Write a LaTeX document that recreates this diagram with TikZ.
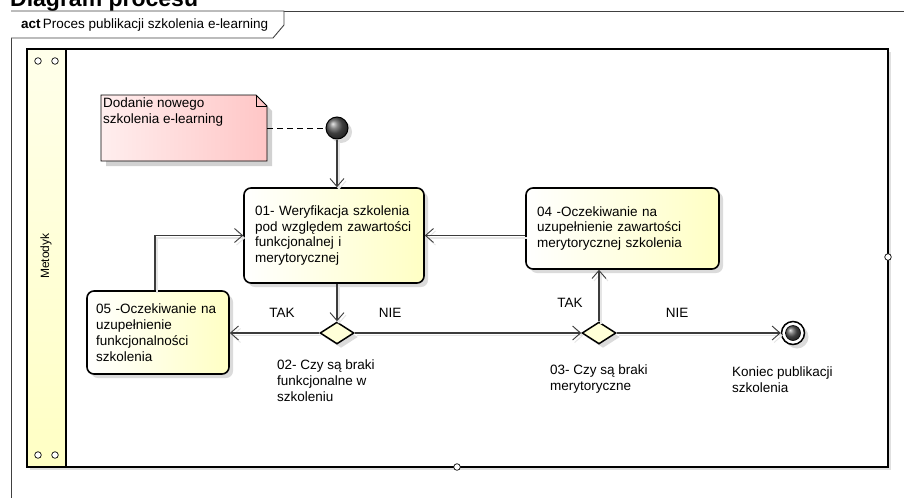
\documentclass[tikz,border=0pt]{standalone}
\usepackage{fontspec}
\setmainfont{Liberation Sans}
\usetikzlibrary{arrows.meta,shapes.geometric,shadows}
\definecolor{boxyellow}{HTML}{FFFFC4}
\definecolor{notepink}{HTML}{FFC6C6}
\definecolor{lineclr}{HTML}{3C3C3C}
\definecolor{diafill}{HTML}{FFFFD8}
\tikzset{
  every node/.append style={font=\fontsize{13.5}{15.8}\selectfont},
  soft shadow/.style={drop shadow={shadow xshift=4pt, shadow yshift=-4pt,
      fill=black!14, opacity=1}},
  action/.style={draw, line width=1.6pt, rounded corners=7pt,
    left color=white, right color=boxyellow,
    align=left, inner xsep=11pt, inner ysep=0pt, soft shadow},
  decision/.style={diamond, draw, line width=1.5pt, fill=diafill,
    minimum width=34pt, minimum height=22pt, inner sep=0pt, soft shadow},
  initial/.style={circle, draw, line width=1pt, ball color=black!65,
    minimum size=22pt, inner sep=0pt, soft shadow},
  final/.style={circle, draw, line width=1.5pt, fill=white,
    minimum size=23pt, inner sep=0pt, soft shadow},
  label/.style={align=left, inner sep=0pt},
  flow/.style={draw=lineclr, line width=1.1pt,
    -{Straight Barb[length=8pt,width=14pt,line width=0.9pt]},
    preaction={draw=black!10, line width=1.6pt,
      transform canvas={shift={(2pt,-2.5pt)}}}},
  framelne/.style={draw=black!75, line width=0.9pt},
  port/.style={draw, fill=white, line width=0.7pt}
}
\begin{document}
\begin{tikzpicture}[x=1pt,y=-1pt]
\useasboundingbox (0,0) rectangle (904,498);
\clip (0,0) rectangle (904,498);
% page title, cut at the top
\node[anchor=base west, inner sep=0pt, font=\bfseries\fontsize{23}{27}\selectfont]
  (title) at (10,6) {Diagram procesu};

% diagram frame
\draw[framelne] (904,11) -- (11,11) -- (11,498);
\draw[framelne, fill=white] (11,11) -- (284,11) -- (284,25) -- (273,38) -- (11,38);
\node[anchor=west, inner sep=0pt] (frametitle) at (21,25)
  {\textbf{act}\,Proces publikacji szkolenia e-learning};

% swimlane
\draw[line width=1.8pt, fill=white,
  drop shadow={shadow xshift=3pt, shadow yshift=-3pt, fill=black!12, opacity=1}]
  (27,49) rectangle (888,467);
\draw[line width=1.8pt, top color=boxyellow!35, bottom color=boxyellow]
  (27,49) rectangle (66,467);
\node[rotate=90, font=\fontsize{12}{14}\selectfont] (lane) at (46,256) {Metodyk};
\foreach \px/\py in {38/61, 55/61, 38/455, 55/455, 457/467, 888/257}
  \draw[port] (\px,\py) circle (3.3pt);

% note
\coordinate (noteNW) at (101,95);
\coordinate (noteSE) at (267,161);
\draw[line width=0.8pt, left color=notepink!30, right color=notepink,
  drop shadow={shadow xshift=5pt, shadow yshift=-5pt, fill=black!18, opacity=1}]
  (noteNW) -- (256,95) -- (267,106) -- (noteSE) -- (101,161) -- cycle;
\draw[line width=0.8pt] (256,95) -- (256,106) -- (267,106);
\node[label, anchor=north west] (note) at (103,98)
  {Dodanie nowego\\szkolenia e-learning};

% nodes
\node[initial] (start) at (337,128) {};
\node[action, text width=158pt, minimum height=95pt] (box01) at (334,235.5)
  {01- Weryfikacja szkolenia\\pod względem zawartości\\funkcjonalnej i\\merytorycznej};
\node[action, text width=171pt, minimum height=81pt] (box04) at (622.5,228.5)
  {04 -Oczekiwanie na\\uzupełnienie zawartości\\merytorycznej szkolenia};
\node[action, inner xsep=9pt, text width=124pt, minimum height=83pt] (box05) at (158,332.5)
  {05 -Oczekiwanie na\\uzupełnienie\\funkcjonalności\\szkolenia};
\node[decision] (d02) at (337,333) {};
\node[decision] (d03) at (599,333) {};
\node[final] (end) at (793,333) {};
\node[circle, ball color=black!65, draw, line width=0.6pt, minimum size=15pt,
  inner sep=0pt] (endcore) at (end) {};

% labels
\node[label, anchor=north west] (q02) at (277,360)
  {02- Czy są braki\\funkcjonalne w\\szkoleniu};
\node[label, anchor=north west] (q03) at (550,365)
  {03- Czy są braki\\merytoryczne};
\node[label, anchor=north west] (lend) at (732,367)
  {Koniec publikacji\\szkolenia};
\node[label] (tak02) at (282,313) {TAK};
\node[label] (nie02) at (390,313) {NIE};
\node[label] (tak03) at (570,303) {TAK};
\node[label] (nie03) at (677,313) {NIE};

% connectors
\draw[dash pattern=on 6pt off 4pt, line width=0.9pt] (start.west -| noteSE) -- (start.west);
\draw[flow] (start) -- (start |- box01.north);
\draw[flow] (box01.south -| d02) -- (d02.north);
\draw[flow] (d02.west) -- (d02.west -| box05.east);
\draw[flow] (d02.east) -- (d03.west);
\draw[flow] (d03.north) -- (d03.north |- box04.south);
\draw[flow] (d03.east) -- (end.west);
\draw[flow] (box01.east -| box04.west) -- (box01.east);
\draw[flow] ([xshift=-3pt]box05.north) |- (box01.west);
\end{tikzpicture}
\end{document}
